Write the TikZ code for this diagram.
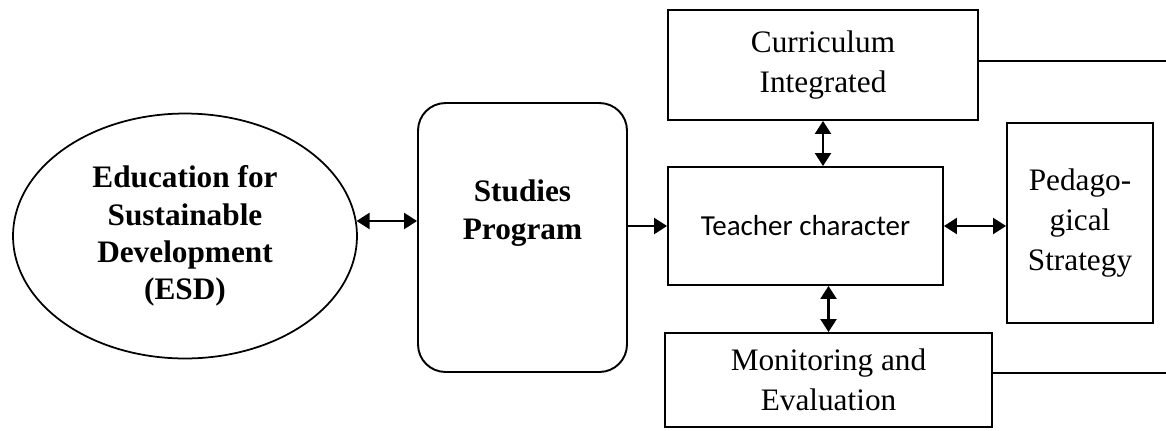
\documentclass[tikz,border=0pt]{standalone}
\usepackage{fontspec}
\setmainfont{Liberation Serif}
\newfontfamily\calibrifont{Carlito}
\usepackage{tikz}
\usetikzlibrary{positioning,
                shapes.geometric,
                arrows.meta}

\begin{document}
\begin{tikzpicture}[x=0.02cm,y=-0.02cm]

\tikzset{
conceptbox/.style={
draw=black,
line width=1.1pt,
align=center,
inner sep=0pt,
font=\fontsize{17.8}{22.5}\selectfont
},
roundbox/.style={
draw=black,
line width=1.1pt,
rounded corners=0.55cm,
inner sep=0pt
},
ovalnode/.style={
draw=black,
ellipse,
line width=1pt,
align=center,
inner sep=0pt,
font=\fontsize{17.8}{21.2}\selectfont\bfseries
},
boldlabel/.style={
align=center,
font=\fontsize{17.8}{22}\selectfont\bfseries
},
linkarrow/.style={
line width=1.3pt,
{Triangle[length=0.26cm,width=0.32cm]}-{Triangle[length=0.26cm,width=0.32cm]}
},
onearrow/.style={
line width=1.3pt,
-{Triangle[length=0.26cm,width=0.32cm]}
},
sideline/.style={
line width=0.7pt
}
}

\useasboundingbox (0,0) rectangle (1166,430);

%--------------------------------------------------
% LEFT SIDE
%--------------------------------------------------

\node[ovalnode,minimum width=6.88cm,minimum height=4.9cm] (esd) at (185,236)
  {Education for\\Sustainable\\Development\\(ESD)};

\node[roundbox,minimum width=4.18cm,minimum height=5.38cm] (studies) at (522.5,237.5) {};
\node[boldlabel] (studieslabel) at (522.5,213) {Studies\\Program};

%--------------------------------------------------
% MIDDLE COLUMN
%--------------------------------------------------

\node[conceptbox,minimum width=6.2cm,minimum height=2.2cm] (curr) at (823,65)
  {Curriculum\\Integrated};

\node[conceptbox,minimum width=5.5cm,minimum height=2.36cm,
      font=\calibrifont\fontsize{16.5}{20}\selectfont] (teacher) at (805.5,226)
  {Teacher character};

\node[conceptbox,minimum width=6.54cm,minimum height=1.88cm] (monitor) at (828.5,380)
  {Monitoring and\\Evaluation};

%--------------------------------------------------
% RIGHT SIDE
%--------------------------------------------------

\node[conceptbox,minimum width=2.92cm,minimum height=4.0cm] (peda) at (1080,223)
  {Pedago-\\gical\\Strategy};

\coordinate (currend) at (1166,61);
\coordinate (monend) at (1166,373);

%--------------------------------------------------
% CONNECTORS
%--------------------------------------------------

\draw[linkarrow] (esd.5) -- (esd.5 -| studies.west);
\draw[onearrow] (studies.east |- teacher.west) -- (teacher.west);
\draw[linkarrow] (teacher.east) -- (teacher.east -| peda.west);
\draw[linkarrow] (curr.south) -- (curr.south |- teacher.north);
\draw[linkarrow] (monitor.north) -- (monitor.north |- teacher.south);

\draw[sideline] (curr.east |- currend) -- (currend);
\draw[sideline] (monitor.east |- monend) -- (monend);

\end{tikzpicture}
\end{document}
